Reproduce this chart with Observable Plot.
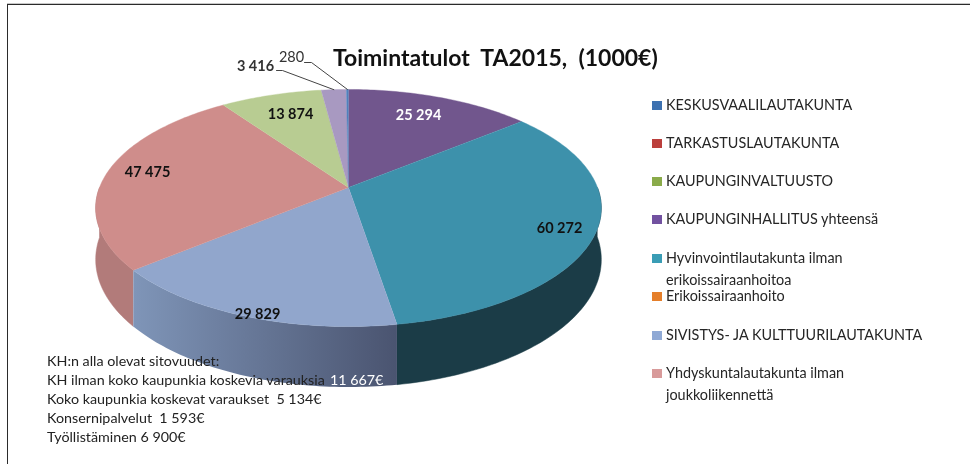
<!DOCTYPE html>
<html>
<head>
<meta charset="utf-8">
<script src="https://cdn.jsdelivr.net/npm/d3@7"></script>
<script src="https://cdn.jsdelivr.net/npm/@observablehq/plot@0.6"></script>
<style>
  html, body { margin: 0; padding: 0; background: #fff; }
  #stage { position: relative; width: 970px; height: 464px; overflow: hidden; font-family: Lato, "Open Sans", sans-serif; color: #262626; }
  #stage svg { position: absolute; left: 0; top: 0; filter: blur(0.6px); }
  .frameTop { position: absolute; left: 7px; right: 0; top: 3px; height: 2px; background: #2b2b2b; border-top: 1px solid #c8c8c8; box-sizing: border-box; }
  .frameLeft { position: absolute; left: 7px; top: 4px; bottom: 0; width: 1px; background: #2b2b2b; }
  h1 { position: absolute; left: 333px; top: 43px; margin: 0; font-size: 23px; line-height: 28px; font-weight: 700; color: #111; white-space: pre; filter: blur(0.4px); }
  .sw { position: absolute; left: 652px; width: 10px; height: 9px; filter: blur(0.6px); }
  .lg { position: absolute; left: 666px; font-size: 14.4px; line-height: 22px; white-space: pre; filter: blur(0.7px); }
  .note { position: absolute; left: 47px; font-size: 14.3px; line-height: 18px; white-space: pre; color: #222; filter: blur(0.7px); }
</style>
</head>
<body>
<div id="stage">
  <div class="frameTop"></div><div class="frameLeft"></div>
  <h1>Toimintatulot  TA2015,  (1000€)</h1>
</div>
<script>
// Pie slices, clockwise from twelve o'clock
const sliceNames  = ["KAUPUNGINHALLITUS yhteensä", "Hyvinvointilautakunta", "Erikoissairaanhoito", "SIVISTYS", "Yhdyskuntalautakunta", "KAUPUNGINVALTUUSTO", "TARKASTUSLAUTAKUNTA", "KESKUSVAALILAUTAKUNTA"];
const sliceValues = [25294, 60272, 0, 29829, 47475, 13874, 3416, 280];
const sliceColors = ["#71568d", "#3d91ab", "#e57f2a", "#91a6cc", "#cf8d8b", "#b8cc92", "#a899c1", "#4f81bd"];

// Legend
const legendLabels = ["KESKUSVAALILAUTAKUNTA", "TARKASTUSLAUTAKUNTA", "KAUPUNGINVALTUUSTO", "KAUPUNGINHALLITUS yhteensä", "Hyvinvointilautakunta ilman\nerikoissairaanhoitoa", "Erikoissairaanhoito", "SIVISTYS- JA KULTTUURILAUTAKUNTA", "Yhdyskuntalautakunta ilman\njoukkoliikennettä"];
const legendColors = ["#3d71b0", "#bb3f3c", "#8aab4a", "#7251a0", "#3a9db5", "#e57f2a", "#8fa9d5", "#d89a9a"];

// Note under the pie
const noteLines = ["KH:n alla olevat sitovuudet:", "KH ilman koko kaupunkia koskevia varauksia", "Koko kaupunkia koskevat varaukset  5 134€", "Konsernipalvelut  1 593€", "Työllistäminen 6 900€"];
const noteOverlay = "11 667€";

// Page layout, in pixels
const W = 970, H = 464;
const apex = {x: 348, y: 187}, radiusX = 249, radiusY = 115, tilt = 0.173, depth = 50 / 115;
const legendTops = [105, 143, 181, 219, 258, 296, 335, 373];
const noteTops = [361, 380, 399, 418, 437];
// label anchors: page position of each value label
const labelAt = {
  "KAUPUNGINHALLITUS yhteensä": [418, 115, "#fff"],
  "Hyvinvointilautakunta": [559, 228, "#111"],
  "SIVISTYS": [257, 314, "#111"],
  "Yhdyskuntalautakunta": [147, 172, "#111"],
  "KAUPUNGINVALTUUSTO": [290, 114, "#111"]
};
const outerLabelAt = {
  "TARKASTUSLAUTAKUNTA": [255, 66, 700],
  "KESKUSVAALILAUTAKUNTA": [291, 57, 400]
};
const leaderFrom = {"TARKASTUSLAUTAKUNTA": [[276, 70], [282, 70]], "KESKUSVAALILAUTAKUNTA": [[304, 62], [311, 62]]};

// Pie geometry: a circle in perspective, in the model units of the x and y scales
const toX = px => (px - apex.x) / radiusX;
const toY = py => (py - apex.y) / radiusY;
const total = d3.sum(sliceValues);
const rim = (turn, drop = 0) => {
  const a = turn * 2 * Math.PI, u = Math.sin(a), v = -Math.cos(a), w = 1 - tilt * v;
  return {x: u / w, y: (v + drop) / w};
};
let running = 0;
const slices = sliceNames.map((name, i) => {
  const from = running / total;
  running += sliceValues[i];
  return {name, value: sliceValues[i], from, to: running / total};
});
const turns = (a, b) => { const n = Math.max(1, Math.ceil((b - a) * 360)); return d3.range(n + 1).map(i => a + (b - a) * i / n); };
const topFace = slices.filter(s => s.value > 0).flatMap(s => [
  {name: s.name, x: 0, y: 0},
  ...turns(s.from, s.to).map(t => ({name: s.name, ...rim(t)}))
]);
const sideFace = (a, b) => [
  ...turns(a, b).map(t => rim(t)),
  ...turns(a, b).reverse().map(t => rim(t, depth))
];
const byName = Object.fromEntries(slices.map(s => [s.name, s]));
const tealSide  = sideFace(0.25, byName["Hyvinvointilautakunta"].to);
const blueSide  = sideFace(byName["SIVISTYS"].from, byName["SIVISTYS"].to);
const pinkSide  = sideFace(byName["Yhdyskuntalautakunta"].from, 0.75);

const valueLabel = v => d3.format(",")(v).replace(/,/g, " ");
const labelRow = (at, s) => ({text: valueLabel(s.value), x: toX(at[0]), y: toY(at[1]), extra: at[2]});
const labels = slices.filter(s => labelAt[s.name]).map(s => labelRow(labelAt[s.name], s));
const outerLabels = slices.filter(s => outerLabelAt[s.name]).map(s => labelRow(outerLabelAt[s.name], s));
const leaders = Object.entries(leaderFrom).flatMap(([name, pts]) => {
  const s = byName[name];
  return [...pts.map(p => ({name, x: toX(p[0]), y: toY(p[1])})), {name, ...rim((s.from + s.to) / 2)}];
});

const defs = () => {
  const g = d3.create("svg:defs");
  const lg = g.append("linearGradient").attr("id", "blueSideGrad");
  lg.append("stop").attr("offset", "0%").attr("stop-color", "#7f95b8");
  lg.append("stop").attr("offset", "100%").attr("stop-color", "#4a5470");
  return g.node();
};

const chart = Plot.plot({
  width: W, height: H, margin: 0,
  style: {background: "transparent", overflow: "visible"},
  x: {axis: null, domain: [toX(0), toX(W)], range: [0, W]},
  y: {axis: null, domain: [toY(0), toY(H)], range: [0, H]},
  color: {domain: sliceNames, range: sliceColors},
  marks: [
    defs,
    Plot.line(pinkSide, {x: "x", y: "y", fill: "#b27b7a", stroke: "#b27b7a", strokeWidth: 0.5}),
    Plot.line(tealSide, {x: "x", y: "y", fill: "#1b3c47", stroke: "#1b3c47", strokeWidth: 0.5}),
    Plot.line(blueSide, {x: "x", y: "y", fill: "url(#blueSideGrad)", stroke: "none"}),
    Plot.line(topFace, {x: "x", y: "y", z: "name", fill: "name", stroke: "name", strokeWidth: 0.4}),
    Plot.line(leaders, {x: "x", y: "y", z: "name", stroke: "#444", strokeWidth: 1}),
    Plot.text(labels.filter(d => d.extra === "#fff"), {x: "x", y: "y", text: "text", fill: "#ffffff", fontSize: 14.5, fontWeight: 700, fontFamily: "Lato, sans-serif"}),
    Plot.text(labels.filter(d => d.extra !== "#fff"), {x: "x", y: "y", text: "text", fill: "#111111", fontSize: 14.5, fontWeight: 700, fontFamily: "Lato, sans-serif"}),
    Plot.text(outerLabels.filter(d => d.extra === 700), {x: "x", y: "y", text: "text", fill: "#333333", fontSize: 14.5, fontWeight: 700, fontFamily: "Lato, sans-serif"}),
    Plot.text(outerLabels.filter(d => d.extra === 400), {x: "x", y: "y", text: "text", fill: "#333333", fontSize: 14.5, fontWeight: 400, fontFamily: "Lato, sans-serif"})
  ]
});
const stage = document.getElementById("stage");
stage.appendChild(chart);

const add = (tag, cls, top, text, extra) => {
  const el = document.createElement(tag);
  el.className = cls; el.style.top = top + "px";
  if (text != null) el.textContent = text;
  Object.assign(el.style, extra || {});
  stage.appendChild(el);
};
legendLabels.forEach((t, i) => {
  add("div", "sw", legendTops[i] - 4.5, null, {background: legendColors[i]});
  add("div", "lg", legendTops[i] - 11, t);
});
noteLines.forEach((t, i) => add("div", "note", noteTops[i] - 9, t));
add("div", "note", noteTops[1] - 9, noteOverlay, {left: "330px", color: "#fff"});
</script>
</body>
</html>
